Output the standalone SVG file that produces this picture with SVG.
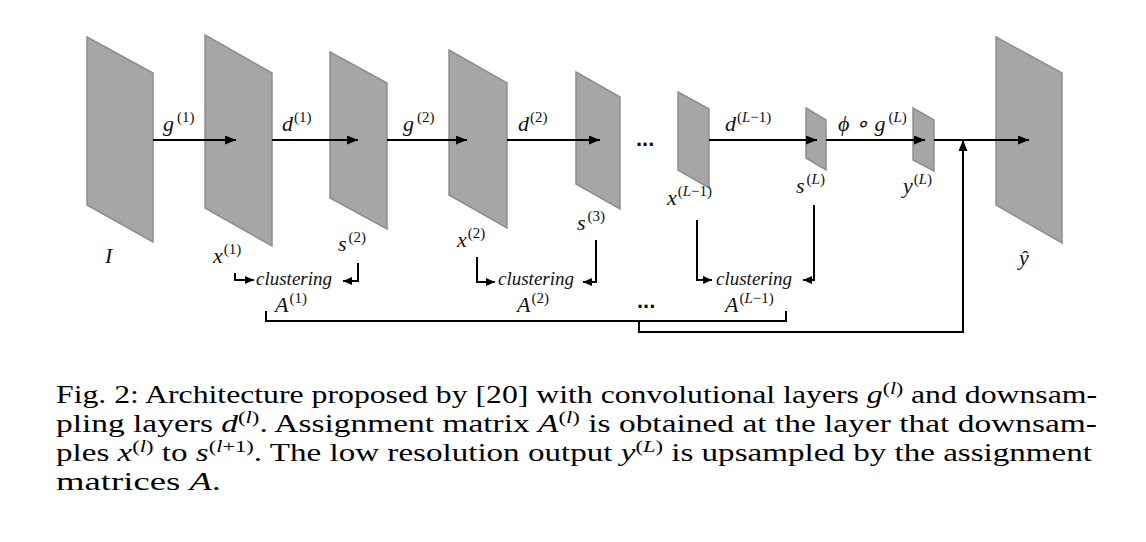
<svg xmlns="http://www.w3.org/2000/svg" width="1146" height="542" viewBox="0 0 1146 542" font-family="Liberation Serif, serif">
<style>
.pl{fill:#a6a6a6;stroke:#8e8e8e;stroke-width:1.5}
.ln{fill:none;stroke:#000;stroke-width:2}
.m{font-size:22px;font-style:italic;fill:#111}
.sp{font-size:15px;font-style:normal}
.spi{font-size:15px;font-style:italic}
.cl{font-size:19px;font-style:italic;fill:#111}
.dots{font-family:"Liberation Sans",sans-serif;font-size:22px;font-weight:bold;fill:#111}
.cap{font-size:25px;fill:#000}
.ci{font-style:italic}
.cs{font-size:17px}
</style>
<defs>
<marker id="ah" markerWidth="11" markerHeight="9" refX="11" refY="4.5" orient="auto" markerUnits="userSpaceOnUse"><path d="M0,0 L11,4.5 L0,9 z" fill="#000"/></marker>
<marker id="ah2" markerWidth="9" markerHeight="8" refX="9" refY="4" orient="auto" markerUnits="userSpaceOnUse"><path d="M0,0 L9,4 L0,8 z" fill="#000"/></marker>
</defs>

<g id="node-I"><polygon class="pl" points="87,37 153,73 153,242 87,205"/><text class="m" x="105" y="263">I</text></g>
<g id="node-x1"><polygon class="pl" points="205,35 272,73 272,246 205,208"/><text class="m" x="213" y="263">x<tspan class="sp" dx="1" dy="-9">(1)</tspan></text></g>
<g id="node-s2"><polygon class="pl" points="330,52 387,83 387,229 330,198"/><text class="m" x="338" y="251">s<tspan class="sp" dx="2" dy="-9">(2)</tspan></text></g>
<g id="node-x2"><polygon class="pl" points="449,50 507,83 507,228 449,195"/><text class="m" x="457" y="247">x<tspan class="sp" dx="1" dy="-9">(2)</tspan></text></g>
<g id="node-s3"><polygon class="pl" points="576,72 620,97 620,209 576,184"/><text class="m" x="577" y="230">s<tspan class="sp" dx="2" dy="-9">(3)</tspan></text></g>
<g id="node-xL1"><polygon class="pl" points="678,92 709,109 709,188 678,170"/><text class="m" x="667" y="205">x<tspan class="sp" dx="1" dy="-9">(</tspan><tspan class="spi">L</tspan><tspan class="sp">−1)</tspan></text></g>
<g id="node-sL"><polygon class="pl" points="806,108 826,120 826,170 806,158"/><text class="m" x="796" y="193">s<tspan class="sp" dx="2" dy="-9">(</tspan><tspan class="spi">L</tspan><tspan class="sp">)</tspan></text></g>
<g id="node-yL"><polygon class="pl" points="913,108 934,120 934,171 913,160"/><text class="m" x="903" y="193">y<tspan class="sp" dx="1" dy="-9">(</tspan><tspan class="spi">L</tspan><tspan class="sp">)</tspan></text></g>
<g id="node-yhat"><polygon class="pl" points="996,37 1062,73 1062,243 996,205"/><text class="m" x="1019" y="265">ŷ</text></g>

<g id="connectors">
<path class="ln" d="M153,140 H236" marker-end="url(#ah)"/>
<path class="ln" d="M272,140 H358" marker-end="url(#ah)"/>
<path class="ln" d="M387,140 H467" marker-end="url(#ah)"/>
<path class="ln" d="M507,140 H600" marker-end="url(#ah)"/>
<path class="ln" d="M709,140 H817" marker-end="url(#ah)"/>
<path class="ln" d="M826,140 H925" marker-end="url(#ah)"/>
<path class="ln" d="M934,140 H1029" marker-end="url(#ah)"/>
<path class="ln" d="M235,273 V280 H254" marker-end="url(#ah2)"/>
<path class="ln" d="M358,263 V281 H343" marker-end="url(#ah2)"/>
<path class="ln" d="M477,257 V282 H495" marker-end="url(#ah2)"/>
<path class="ln" d="M596,240 V282 H583" marker-end="url(#ah2)"/>
<path class="ln" d="M697,220 V280 H712" marker-end="url(#ah2)"/>
<path class="ln" d="M814,205 V280 H803" marker-end="url(#ah2)"/>
<path class="ln" d="M266,311 V321 H786 V311"/>
<path class="ln" d="M639,321 V332 H963 V140" marker-end="url(#ah)"/>
</g>

<g id="labels">
<text class="m" x="163" y="131">g<tspan class="sp" dx="3" dy="-9">(1)</tspan></text>
<text class="m" x="282" y="131">d<tspan class="sp" dx="1" dy="-9">(1)</tspan></text>
<text class="m" x="403" y="131">g<tspan class="sp" dx="3" dy="-9">(2)</tspan></text>
<text class="m" x="518" y="131">d<tspan class="sp" dx="1" dy="-9">(2)</tspan></text>
<text class="m" x="725" y="131">d<tspan class="sp" dx="1" dy="-9">(</tspan><tspan class="spi">L</tspan><tspan class="sp">−1)</tspan></text>
<text class="m" x="838" y="131">ϕ ∘ g<tspan class="sp" dx="3" dy="-9">(</tspan><tspan class="spi">L</tspan><tspan class="sp">)</tspan></text>
<text class="dots" x="636" y="146">...</text>
<text class="dots" x="637" y="308">...</text>
<text class="cl" x="256" y="285">clustering</text>
<text class="cl" x="498" y="285">clustering</text>
<text class="cl" x="716" y="285">clustering</text>
<text class="m" x="275" y="312">A<tspan class="sp" dx="1" dy="-9">(1)</tspan></text>
<text class="m" x="517" y="312">A<tspan class="sp" dx="1" dy="-9">(2)</tspan></text>
<text class="m" x="725" y="312">A<tspan class="sp" dx="1" dy="-9">(</tspan><tspan class="spi">L</tspan><tspan class="sp">−1)</tspan></text>
</g>

<g id="caption">
<text class="cap" x="56" y="403" textLength="1041" lengthAdjust="spacingAndGlyphs">Fig. 2: Architecture proposed by [20] with convolutional layers <tspan class="ci">g</tspan><tspan class="cs" dy="-9">(</tspan><tspan class="cs ci">l</tspan><tspan class="cs">)</tspan><tspan dy="9"> and downsam-</tspan></text>
<text class="cap" x="56" y="432" textLength="1041" lengthAdjust="spacingAndGlyphs">pling layers <tspan class="ci">d</tspan><tspan class="cs" dy="-9">(</tspan><tspan class="cs ci">l</tspan><tspan class="cs">)</tspan><tspan dy="9">. Assignment matrix </tspan><tspan class="ci">A</tspan><tspan class="cs" dy="-9">(</tspan><tspan class="cs ci">l</tspan><tspan class="cs">)</tspan><tspan dy="9"> is obtained at the layer that downsam-</tspan></text>
<text class="cap" x="56" y="461" textLength="1036" lengthAdjust="spacingAndGlyphs">ples <tspan class="ci">x</tspan><tspan class="cs" dy="-9">(</tspan><tspan class="cs ci">l</tspan><tspan class="cs">)</tspan><tspan dy="9"> to </tspan><tspan class="ci">s</tspan><tspan class="cs" dy="-9">(</tspan><tspan class="cs ci">l</tspan><tspan class="cs">+1)</tspan><tspan dy="9">. The low resolution output </tspan><tspan class="ci">y</tspan><tspan class="cs" dy="-9">(</tspan><tspan class="cs ci">L</tspan><tspan class="cs">)</tspan><tspan dy="9"> is upsampled by the assignment</tspan></text>
<text class="cap" x="56" y="490" textLength="165" lengthAdjust="spacingAndGlyphs">matrices <tspan class="ci">A</tspan>.</text>
</g>
</svg>
